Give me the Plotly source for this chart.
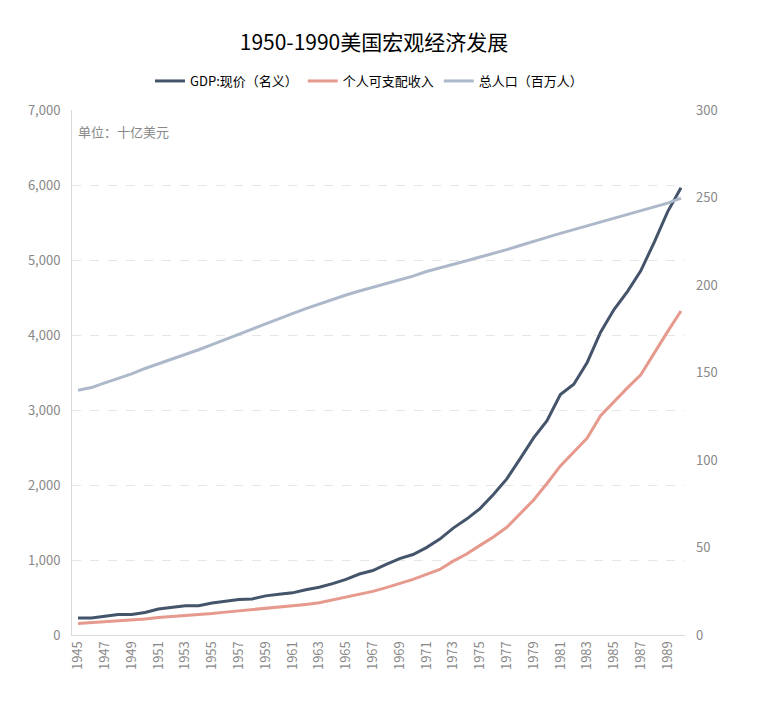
import plotly.graph_objects as go

years = list(range(1945, 1991))
gdp = [228.0, 227.5, 249.6, 274.5, 272.5, 299.8, 346.9, 367.3, 389.2, 390.5,
       425.5, 449.4, 474.0, 481.2, 521.7, 542.4, 562.2, 603.9, 637.5, 684.5,
       742.3, 813.4, 860.0, 940.7, 1017.6, 1073.3, 1164.9, 1279.1, 1425.4, 1545.2,
       1684.9, 1873.4, 2081.8, 2351.6, 2627.3, 2857.3, 3207.0, 3343.8, 3634.0, 4037.6,
       4339.0, 4579.6, 4855.2, 5236.4, 5641.6, 5963.1]
dpi = [152, 162, 173, 192, 193, 212, 233, 246, 261, 268,
       286, 305, 321, 335, 355, 370, 385, 408, 429, 466,
       504, 544, 582, 632, 683, 742, 808, 874, 985, 1080,
       1195, 1308, 1436, 1612, 1800, 2020, 2255, 2440, 2625, 2925,
       3115, 3295, 3470, 3760, 4045, 4320]
pop = [139.9, 141.4, 144.1, 146.6, 149.2, 152.3, 154.9, 157.6, 160.2, 163.0,
       165.9, 168.9, 172.0, 174.9, 177.8, 180.7, 183.7, 186.5, 189.2, 191.9,
       194.3, 196.6, 198.7, 200.7, 202.7, 205.1, 207.7, 209.9, 211.9, 213.9,
       216.0, 218.0, 220.2, 222.6, 225.1, 227.2, 229.5, 231.7, 233.8, 235.8,
       237.9, 240.1, 242.3, 244.5, 246.8, 249.6]
names = ["GDP:现价（名义）", "个人可支配收入", "总人口（百万人）"]
colors = ["#44546A", "#E6998D", "#ADB9CA"]
tick_years = list(range(1945, 1991, 2))
left_ticks = list(range(0, 7001, 1000))
right_ticks = list(range(0, 301, 50))

FONT = "Noto Sans CJK SC, Microsoft YaHei, sans-serif"
W, H = 754, 701

fig = go.Figure()
fig.add_trace(go.Scatter(x=years, y=gdp, name=names[0], mode="lines",
                         line=dict(color=colors[0], width=3)))
fig.add_trace(go.Scatter(x=years, y=dpi, name=names[1], mode="lines",
                         line=dict(color=colors[1], width=3)))
fig.add_trace(go.Scatter(x=years, y=pop, name=names[2], mode="lines", yaxis="y2",
                         line=dict(color=colors[2], width=3)))

fig.update_layout(
    width=W, height=H,
    paper_bgcolor="white", plot_bgcolor="white",
    margin=dict(l=64, r=77, t=102, b=74, autoexpand=False),
    font=dict(family=FONT, size=13, color="#333"),
    title=dict(text="1950-1990美国宏观经济发展", x=366 / W, xanchor="center",
               y=1 - 35 / H, yanchor="middle",
               font=dict(size=21, color="#000", family=FONT)),
    showlegend=True,
    legend=dict(orientation="h", x=0.4845, xanchor="center", y=1 + 29 / 525,
                yanchor="middle", font=dict(size=13, color="#000"),
                itemwidth=30, tracegroupgap=0),
    xaxis=dict(range=[1944.55, 1990.3], tickmode="array", tickvals=tick_years,
               ticktext=[str(y) for y in tick_years], tickangle=-90,
               tickfont=dict(size=13, color="#888"), showgrid=False,
               showline=True, linecolor="#d9d9d9", linewidth=1, zeroline=False,
               ticks="", automargin=False),
    yaxis=dict(range=[0, 7000], tickmode="array", tickvals=left_ticks,
               ticktext=[f"{v:,}" for v in left_ticks],
               tickfont=dict(size=13, color="#888"),
               showgrid=True, gridcolor="#e6e6e6", griddash="dash", gridwidth=1,
               showline=True, linecolor="#d9d9d9", linewidth=1, zeroline=False,
               ticks="", ticklabelstandoff=8, automargin=False),
    yaxis2=dict(range=[0, 300], tickmode="array", tickvals=right_ticks,
                overlaying="y", side="right",
                tickfont=dict(size=13, color="#888"),
                showgrid=False, showline=False, zeroline=False, ticks="",
                ticklabelstandoff=10, automargin=False),
    annotations=[dict(text="单位：十亿美元", xref="paper", yref="paper",
                      x=0.0, y=1 - 21 / 525, xanchor="left", yanchor="middle",
                      xshift=4, showarrow=False,
                      font=dict(size=13, color="#888", family=FONT))],
)

fig.write_html("out.html")
